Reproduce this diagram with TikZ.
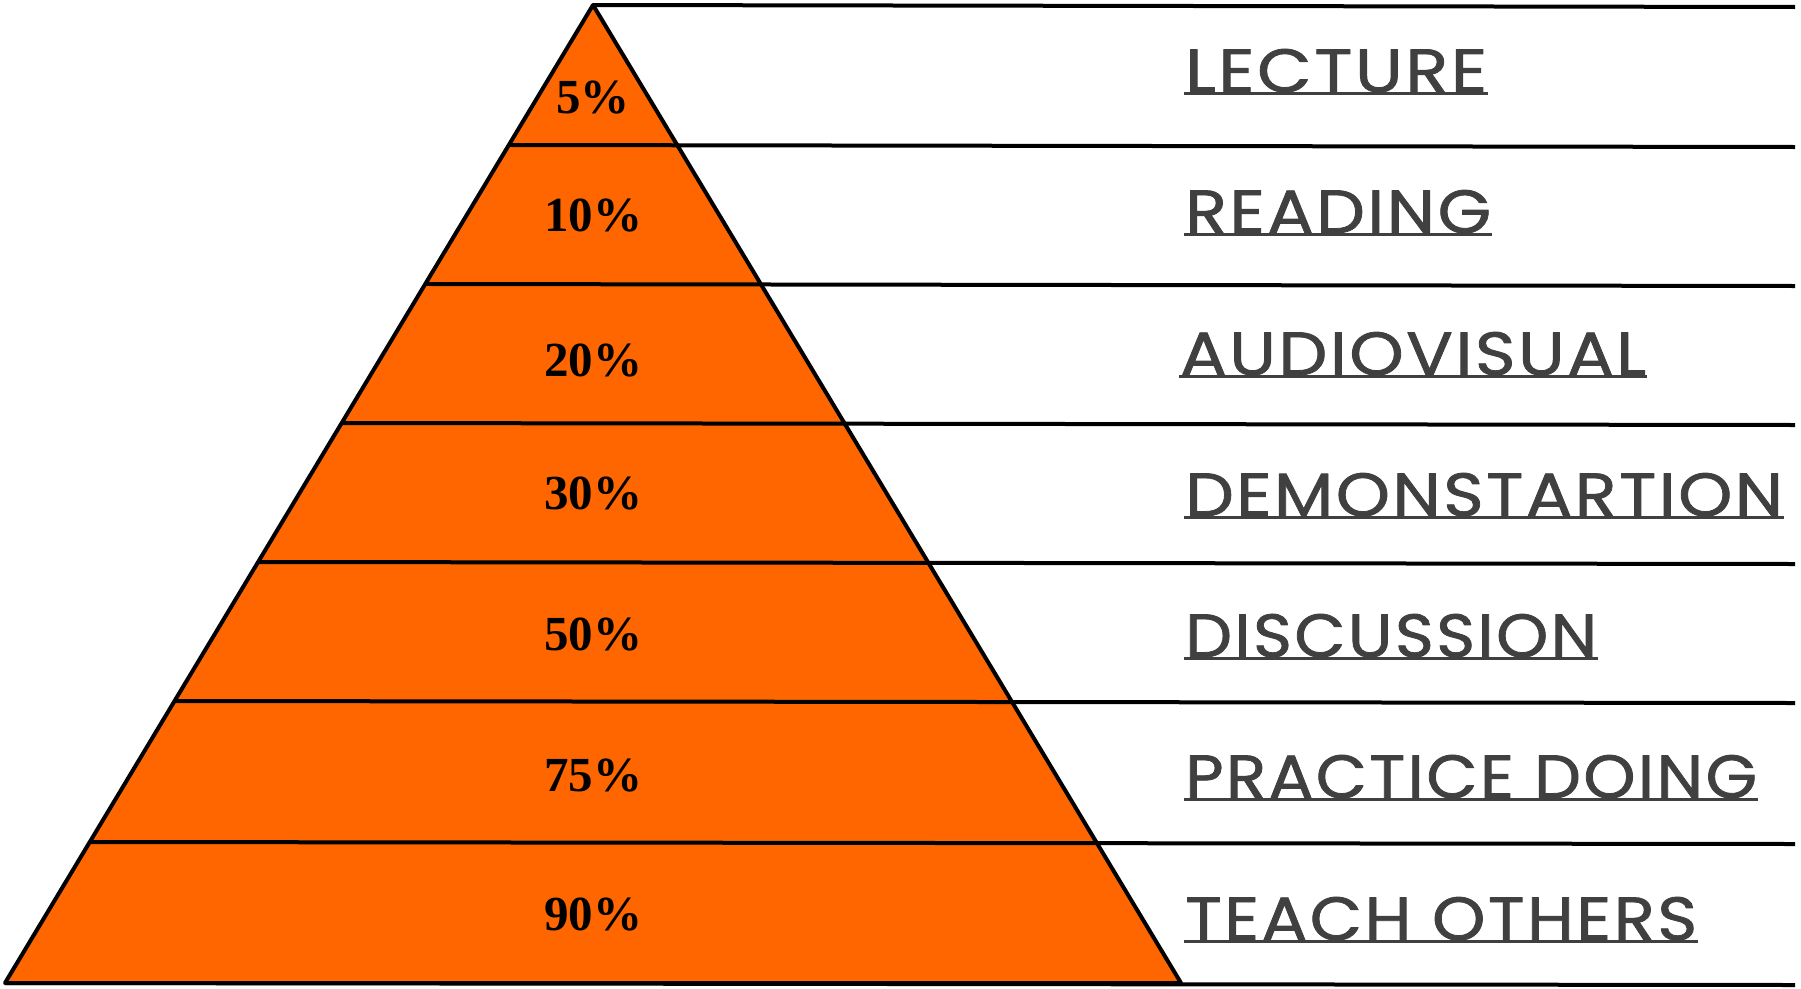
\documentclass[tikz,border=0pt]{standalone}
\usepackage{fontspec}
\usetikzlibrary{calc}
\newfontfamily\lblfont{Poppins}[FakeStretch=1.1,LetterSpace=4,FakeBold=1.3]
\newfontfamily\pctfont{Liberation Serif}
\definecolor{pyr}{HTML}{FF6600}
\definecolor{lblgray}{HTML}{404040}
\begin{document}
\begin{tikzpicture}[x=1pt,y=-1pt, line join=round,
  edge/.style={line width=4pt, black},
  pct/.style={font=\pctfont\bfseries\fontsize{49}{54}\selectfont, inner sep=0pt, anchor=center},
  lbl/.style={font=\lblfont\fontsize{61}{70}\selectfont, text=lblgray, inner sep=0pt, anchor=base west},
  uline/.style={line width=3pt, lblgray}]
\useasboundingbox (0,0) rectangle (1801,988);
\coordinate (apex) at (593,5);
\coordinate (bl) at (5,983);
\coordinate (br) at (1181,983);
\fill[pyr] (apex) -- (bl) -- (br) -- cycle;
\coordinate (R0) at (1795,7);
\coordinate (R7) at (1795,985);
\draw[edge] (apex) -- (R0);
\draw[edge] (bl) -- (R7);
\foreach \y/\n in {145/1,284/2,423/3,562/4,701/5,842/6} {
  \coordinate (L\n) at ($(apex)!{(\y-5)/978}!(bl)$);
  \coordinate (R\n) at (1795,\y+2);
  \draw[edge] (L\n) -- (R\n);
}
\draw[edge] (apex) -- (bl) -- (br) -- cycle;
% percentages
\foreach \t/\y/\n in {5/98/a,10/216/b,20/361/c,30/494/d,50/635/e,75/776/f,90/915/g} {
  \node[pct] (p\n) at (593,\y) {\t\%};
}
% labels
\foreach \t/\x/\y/\w/\n in {LECTURE/1185/92/302/a, READING/1185/233/306/b, AUDIOVISUAL/1180/375/466/c, DEMONSTARTION/1185/516/598/d, DISCUSSION/1185/657/412/e, PRACTICE DOING/1185/798/572/f, TEACH OTHERS/1185/940/512/g} {
  \node[lbl] (l\n) at (\x,\y) {\resizebox{\w pt}{\height}{\t}};
  \draw[uline] ($(l\n.base west)+(-1,1)$) -- ($(l\n.base east)+(1,1)$);
}
\end{tikzpicture}
\end{document}
